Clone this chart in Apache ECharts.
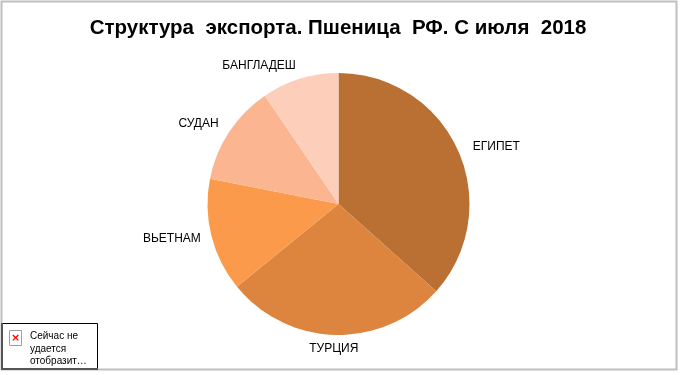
<!DOCTYPE html>
<html>
<head>
<meta charset="utf-8">
<style>
html,body{margin:0;padding:0;background:#fff;}
#main{width:680px;height:375px;}
</style>
<script src="https://cdn.jsdelivr.net/npm/echarts@6/dist/echarts.min.js"></script>
</head>
<body>
<div id="main"></div>
<script>
var countries = ['ЕГИПЕТ','ТУРЦИЯ','ВЬЕТНАМ','СУДАН','БАНГЛАДЕШ'];
var shares = [36.6,27.5,14,12.4,9.5];
var colors = ['#B97032','#DD853E','#FA9A4A','#FBB691','#FDCEB9'];

var pieData = [];
for(var i=0;i<countries.length;i++){
    pieData.push({name:countries[i],value:shares[i]});
}
var fontName = '"Liberation Sans", Arial, sans-serif';
var myChart = echarts.init(document.getElementById('main'),null,{renderer:'canvas'});
var option = {
    animation:false,
    backgroundColor:'#fff',
    color:colors,
    title:{
        text:'Структура  экспорта. Пшеница  РФ. С июля  2018',
        left:333,
        top:13,
        textAlign:'center',
        textStyle:{fontFamily:fontName,fontSize:20.5,fontWeight:'bold',color:'#000'}
    },
    series:[{
        type:'pie',
        center:[338.5,204],
        radius:[0,131],
        startAngle:90,
        clockwise:true,
        data:pieData,
        label:{
            show:true,
            position:'outside',
            fontFamily:fontName,
            fontSize:12,
            color:'#000',
            distanceToLabelLine:0
        },
        labelLine:{show:false,length:14,length2:0},
        // подписи сдвинуты как в оригинале
        labelLayout:function(params){
            var dx = [2,23,3,1,0];
            var dy = [2,0,0,0,0];
            return {dx:dx[params.dataIndex],dy:dy[params.dataIndex]};
        },
        itemStyle:{borderWidth:0}
    }],
    graphic:[
        // рамка области
        {type:'rect',shape:{x:1.5,y:1.5,width:675,height:368},style:{fill:'none',stroke:'#BFBFBF',lineWidth:2},z:1},
        // заглушка картинки
        {type:'rect',shape:{x:2.5,y:323.5,width:95,height:45},style:{fill:'#fff',stroke:'#000',lineWidth:1},z:10},
        {type:'polyline',shape:{points:[[2,323],[2,369],[98,369]]},style:{fill:'none',stroke:'#555',lineWidth:2},z:11},
        {type:'rect',shape:{x:9.5,y:330.5,width:12,height:15},style:{fill:'#fff',stroke:'#A0A0A0',lineWidth:1},z:11},
        {type:'text',style:{x:15.5,y:338,text:'×',fill:'#F00',font:'bold 11px "DejaVu Sans"',align:'center',verticalAlign:'middle'},z:12},
        {type:'text',style:{x:30,y:330,text:'Сейчас не\nудается\nотобразит…',fill:'#000',font:'10px "Liberation Sans"',lineHeight:12.5},z:12}
    ]
};
myChart.setOption(option);
</script>
</body>
</html>
